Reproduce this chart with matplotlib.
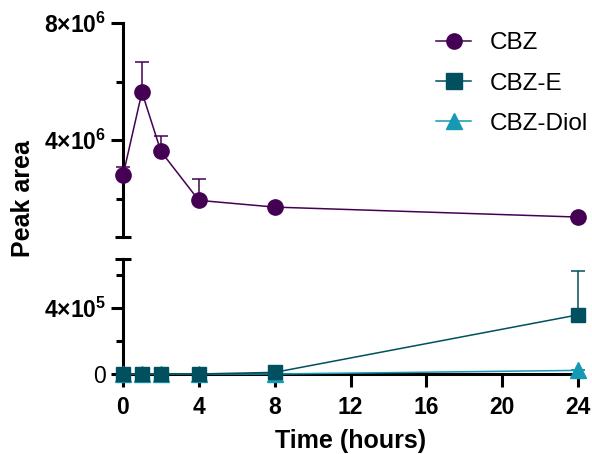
import numpy as np
import matplotlib
matplotlib.use("Agg")
import matplotlib.pyplot as plt
from matplotlib.lines import Line2D

plt.rcParams['font.family'] = ['Liberation Sans', 'DejaVu Sans']
plt.rcParams['mathtext.fontset'] = 'custom'
plt.rcParams['mathtext.rm'] = 'Liberation Sans:bold'
plt.rcParams['mathtext.bf'] = 'Liberation Sans:bold'
plt.rcParams['mathtext.it'] = 'Liberation Sans:bold'

# data
time_h = [0, 1, 2, 4, 8, 24]
cbz = [2.8e6, 5.64e6, 3.62e6, 1.95e6, 1.72e6, 1.38e6]
cbz_err = [0.3e6, 1.03e6, 0.52e6, 0.72e6, 0, 0]
cbz_e = [0, 0, 0, 0, 1.0e4, 3.6e5]
cbz_e_err = [0, 0, 0, 0, 0, 2.7e5]
cbz_diol = [0, 0, 0, 0, 0, 2.2e4]
cbz_diol_err = [0, 0, 0, 0, 0, 0]

series_names = ['CBZ', 'CBZ-E', 'CBZ-Diol']
colors = ['#440154', '#00505F', '#1699B3']
markers = ['o', 's', '^']

x_ticks = [0, 4, 8, 12, 16, 20, 24]
top_lim = (7e5, 8e6)
bot_lim = (0, 7e5)

W, H = 592, 454
fig = plt.figure(figsize=(W / 100, H / 100), dpi=100)
left = 123 / W
width = (578 - 123) / W
ax_top = fig.add_axes([left, 1 - 237 / H, width, (237 - 23) / H])
ax_bot = fig.add_axes([left, 1 - 374 / H, width, (374 - 259) / H])

lw_axis = 2.2
tick_fs = 16.5


def draw(ax, y, err, color, marker, ms, z):
    y = np.array(y)
    err = np.array(err)
    ax.errorbar(time_h, y, yerr=[np.zeros_like(err), err], fmt='none',
                ecolor=color, elinewidth=1.1, capsize=5, capthick=1.1,
                clip_on=False, zorder=z)
    ax.plot(time_h, y, color=color, lw=1.1, marker=marker, markersize=ms,
            clip_on=False, zorder=z + 0.5)


draw(ax_top, cbz, cbz_err, colors[0], markers[0], 11, 3)
draw(ax_bot, cbz_diol, cbz_diol_err, colors[2], markers[2], 11, 3)
draw(ax_bot, cbz_e, cbz_e_err, colors[1], markers[1], 10.5, 4)

for ax in (ax_top, ax_bot):
    ax.set_xlim(0, 24)
    for s in ('top', 'right'):
        ax.spines[s].set_visible(False)
    ax.spines['left'].set_linewidth(lw_axis)
    ax.spines['bottom'].set_linewidth(lw_axis)
    ax.tick_params(axis='both', which='major', length=9, width=lw_axis,
                   labelsize=tick_fs, pad=3)
    ax.tick_params(axis='y', which='minor', length=5, width=lw_axis)
    ax.patch.set_alpha(0)
    # end cap on the broken axis segment
    cap_y = 0 if ax is ax_top else 1
    ax.plot([0], [cap_y], marker='_', markersize=12, mew=lw_axis,
            color='black', transform=ax.transAxes, clip_on=False, zorder=5)

ax_top.set_ylim(*top_lim)
ax_top.spines['bottom'].set_visible(False)
ax_top.set_xticks([])
ax_top.set_yticks([4e6, 8e6])
ax_top.set_yticklabels([r'$4{\times}10^{6}$', r'$8{\times}10^{6}$'])
ax_top.set_yticks([2e6, 6e6], minor=True)

ax_bot.set_ylim(*bot_lim)
ax_bot.set_yticks([0, 4e5])
ax_bot.set_yticklabels(['0', r'$4{\times}10^{5}$'])
ax_bot.set_yticks([2e5, 6e5], minor=True)
ax_bot.set_xticks(x_ticks)
ax_bot.set_xticklabels([str(t) for t in x_ticks], fontweight='bold')
ax_bot.tick_params(axis='x', pad=7)
ax_bot.set_xlabel('Time (hours)', fontsize=18, fontweight='bold', labelpad=7)

fig.text(23 / W, 1 - 199 / H, 'Peak area', rotation=90, fontsize=18,
         fontweight='bold', ha='center', va='center')

handles = [Line2D([], [], color=c, marker=m, lw=1.1, markersize=11)
           for c, m in zip(colors, markers)]
fig.legend(handles, series_names, loc='upper left', frameon=False,
           bbox_to_anchor=(436 / W, 1 - 32 / H), fontsize=17.5,
           handlelength=1.45, handletextpad=0.75, labelspacing=0.76,
           borderpad=0, borderaxespad=0)

fig.savefig('out.png', dpi=100)
